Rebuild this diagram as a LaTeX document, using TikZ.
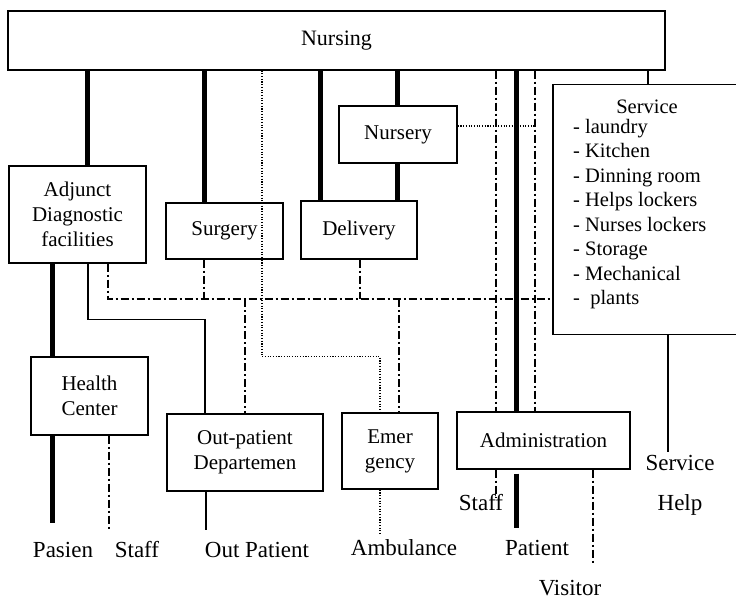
\documentclass[tikz,border=0pt]{standalone}
\usepackage{fontspec}
\setmainfont{Liberation Serif}
\begin{document}
\begin{tikzpicture}[x=1pt,y=-1pt,
  box/.style={draw, line width=1.4pt, rectangle, inner sep=0pt, align=center, font=\fontsize{21}{25}\selectfont},
  lbl/.style={inner sep=0pt, font=\fontsize{23}{27}\selectfont},
  heavy/.style={line width=5pt},
  thinln/.style={line width=1.3pt},
  dd/.style={line width=1.6pt, dash pattern=on 8pt off 3pt on 2pt off 3pt},
  dt/.style={line width=1.1pt, dash pattern=on 1.1pt off 1.6pt}]
\useasboundingbox (0,0) rectangle (736,599);

% boxes
\node[box, minimum width=657pt, minimum height=59pt, font=\fontsize{22}{26}\selectfont] (nurs) at (336.5,40.5) {Nursing};
\node[box, minimum width=137pt, minimum height=97pt] (adj) at (77.5,214.5) {Adjunct\\Diagnostic\\facilities};
\node[box, minimum width=117pt, minimum height=56pt] (surg) at (224.5,231) {Surgery};
\node[box, minimum width=116pt, minimum height=58pt] (deliv) at (359,230) {Delivery};
\node[box, minimum width=118pt, minimum height=57pt] (nurse) at (398,134.5) {Nursery};
% service box: open to the right (runs off the page)
\node[rectangle, inner sep=0pt, minimum width=183pt, minimum height=249pt] (svc) at (644.5,209.5) {};
\draw[line width=1.4pt] (svc.north east) -- (svc.north west) -- (svc.south west) -- (svc.south east);
\node[inner sep=0pt, font=\fontsize{20.5}{24.5}\selectfont] (svct) at (647,107) {Service};
\node[inner sep=0pt, anchor=north west, align=left, font=\fontsize{20.5}{24.5}\selectfont] (svcl) at (573,119)
  {- laundry\\- Kitchen\\- Dinning room\\- Helps lockers\\- Nurses lockers\\- Storage\\- Mechanical\\-\ \ plants};
\node[box, minimum width=117pt, minimum height=78pt] (hc) at (89.5,396) {Health\\Center};
\node[box, minimum width=156pt, minimum height=77pt] (outp) at (245,452.5) {Out-patient\\Departemen};
\node[box, minimum width=96pt, minimum height=76pt] (emer) at (390,451) {Emer\\gency};
\node[box, minimum width=173pt, minimum height=57pt] (adm) at (543.5,440.5) {Administration};

% labels
\node[lbl] (lpas) at (63,550) {Pasien};
\node[lbl] (lstf) at (137,550) {Staff};
\node[lbl] (lout) at (257,550) {Out Patient};
\node[lbl] (lamb) at (404,548) {Ambulance};
\node[lbl] (lstf2) at (481,503) {Staff};
\node[lbl] (lpat) at (537,548) {Patient};
\node[lbl] (lvis) at (570,588) {Visitor};
\node[lbl] (lsvc) at (680,463) {Service};
\node[lbl] (lhlp) at (680,505) {Help};

% free ends
\coordinate (hl) at (0,299);
\coordinate (pasEnd) at (52,523);
\coordinate (hcStfEnd) at (109,530);
\coordinate (opEnd) at (206,530);
\coordinate (ambEnd) at (380,533);
\coordinate (stfEnd) at (496,497);
\coordinate (patEnd) at (516,528);
\coordinate (visEnd) at (593,565);
\coordinate (svcEnd) at (668,452);
\coordinate (nurDotEnd) at (535,126);

% thick (patient) lines
\draw[heavy] (nurs.south -| 87,0) -- (adj.north -| 87,0);
\draw[heavy] (adj.south -| 52,0) -- (hc.north -| 52,0);
\draw[heavy] (hc.south -| 52,0) -- (pasEnd);
\draw[heavy] (nurs.south -| 204,0) -- (surg.north -| 204,0);
\draw[heavy] (nurs.south -| 320,0) -- (deliv.north -| 320,0);
\draw[heavy] (nurs.south -| 397,0) -- (nurse.north -| 397,0);
\draw[heavy] (nurse.south -| 397,0) -- (deliv.north -| 397,0);
\draw[heavy] (nurs.south -| 516,0) -- (adm.north -| 516,0);
\draw[heavy] (adm.south -| 516,0) ++(0,4) -- (patEnd);

% thin solid lines
\draw[thinln] (nurs.south -| 648,0) -- (svc.north -| 648,0);
\draw[thinln] (svc.south -| 668,0) -- (svcEnd);
\draw[thinln] (adj.south -| 88,0) -- ++(0,56) -| (outp.north -| 205,0);
\draw[thinln] (outp.south -| 206,0) -- (opEnd);

% dash-dot (staff) lines
\draw[dd] (adj.south -| 108,0) |- (svc.west |- hl);
\draw[dd] (surg.south -| 204,0) -- (204,0 |- hl);
\draw[dd] (deliv.south -| 360,0) -- (360,0 |- hl);
\draw[dd] (245,0 |- hl) -- (outp.north -| 245,0);
\draw[dd] (399,0 |- hl) -- (emer.north -| 399,0);
\draw[dd] (nurs.south -| 496,0) -- (adm.north -| 496,0);
\draw[dd] (adm.south -| 496,0) -- (stfEnd);
\draw[dd] (nurs.south -| 535,0) -- (adm.north -| 535,0);
\draw[dd] (adm.south -| 593,0) -- (visEnd);
\draw[dd] (hc.south -| 109,0) -- (hcStfEnd);

% dotted lines
\draw[dt] (nurs.south -| 262,0) -- ++(0,286) -| (emer.north -| 380,0);
\draw[dt] (emer.south -| 380,0) -- (ambEnd);
\draw[dt] (nurse.east |- 0,126) -- (nurDotEnd);
\end{tikzpicture}
\end{document}
